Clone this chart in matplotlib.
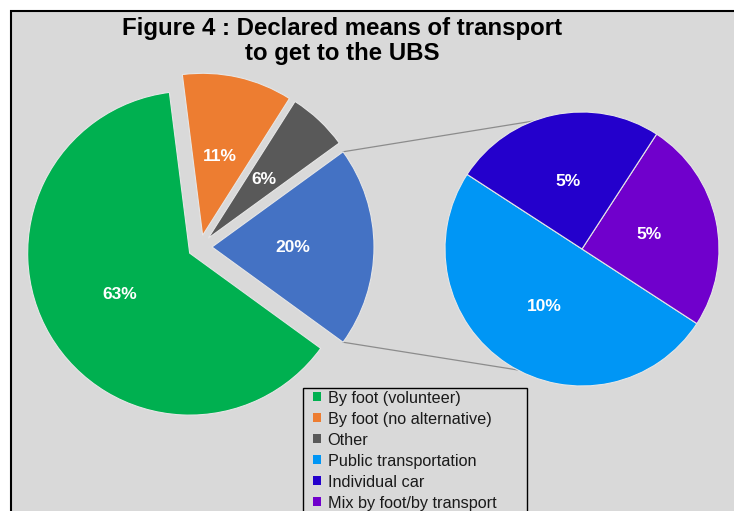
import matplotlib
matplotlib.use("Agg")
import matplotlib.pyplot as plt
import numpy as np
from matplotlib.patches import Rectangle, Patch

plt.rcParams['font.family'] = ['Liberation Sans', 'DejaVu Sans']

# main pie (blue slice = the group detailed on the right)
main_labels = ["Other (detailed)", "Other", "By foot (no alternative)", "By foot (volunteer)"]
main_values = [20, 6, 11, 63]
main_colors = ["#4472c4", "#595959", "#ed7d31", "#00b050"]

# secondary pie
sub_labels = ["Public transportation", "Mix by foot/by transport", "Individual car"]
sub_values = [10, 5, 5]
sub_colors = ["#0096f5", "#7000cc", "#2400cc"]

legend_labels = ["By foot (volunteer)", "By foot (no alternative)", "Other",
                 "Public transportation", "Individual car", "Mix by foot/by transport"]
legend_colors = ["#00b050", "#ed7d31", "#595959", "#0096f5", "#2400cc", "#7000cc"]

W, H = 734, 511
fig = plt.figure(figsize=(W / 100, H / 100), dpi=100, facecolor="white")
ax = fig.add_axes([0, 0, 1, 1])

# chart area background with frame on top/left
ax.add_patch(Rectangle((11, -10), W + 10, H - 11 + 10, facecolor="#d9d9d9",
                       edgecolor="black", linewidth=1.5, zorder=0))

main_c = (200, 264)
main_r = 162
sub_c = (582, 262)
sub_r = 137
expl = 12

total = sum(main_values)
ax.pie(main_values, colors=main_colors, startangle=-36, counterclock=True,
       center=main_c, radius=main_r, explode=[expl] * 4,
       autopct=lambda p: f"{p * total / 100:.0f}%", pctdistance=0.5,
       wedgeprops=dict(edgecolor="#e6e6e6", linewidth=0.8),
       textprops=dict(color="white", fontsize=12.5, fontweight="bold"))

sub_total = sum(sub_values)
ax.pie(sub_values, colors=sub_colors, startangle=147, counterclock=True,
       center=sub_c, radius=sub_r,
       autopct=lambda p: f"{p * sub_total / 100:.0f}%", pctdistance=0.5,
       wedgeprops=dict(edgecolor="#e6e6e6", linewidth=0.8),
       textprops=dict(color="white", fontsize=12.5, fontweight="bold"))

# connector lines between the blue slice and the secondary pie
apex = (main_c[0] + expl, main_c[1])
for a_main, a_sub in [(36, 111), (-36, 242)]:
    x0 = apex[0] + main_r * np.cos(np.radians(a_main))
    y0 = apex[1] + main_r * np.sin(np.radians(a_main))
    x1 = sub_c[0] + sub_r * np.cos(np.radians(a_sub))
    y1 = sub_c[1] + sub_r * np.sin(np.radians(a_sub))
    ax.plot([x0, x1], [y0, y1], color="#8c8c8c", linewidth=0.9, zorder=0.5)

ax.set_xlim(0, W)
ax.set_ylim(0, H)
ax.axis("off")

ax.text(342, H - 41, "Figure 4 : Declared means of transport\nto get to the UBS",
        ha="center", va="center", fontsize=17.3, fontweight="bold",
        linespacing=1.15)

# legend box (runs off the bottom of the picture)
ax.add_patch(Rectangle((303, -20), 224, H - 388 + 20, facecolor="#d9d9d9",
                       edgecolor="black", linewidth=1.0, zorder=3))
handles = [Patch(facecolor=c, edgecolor="none") for c in legend_colors]
leg = fig.legend(handles, legend_labels, loc="upper left",
                 bbox_to_anchor=(313 / W, 1 - 390.5 / H), fontsize=11.7,
                 frameon=False, handlelength=0.5, handleheight=0.5,
                 handletextpad=0.4, labelspacing=0.37,
                 borderpad=0, borderaxespad=0, labelcolor="#1a1a1a")
leg.set_zorder(5)

fig.savefig("out.png", dpi=100)
